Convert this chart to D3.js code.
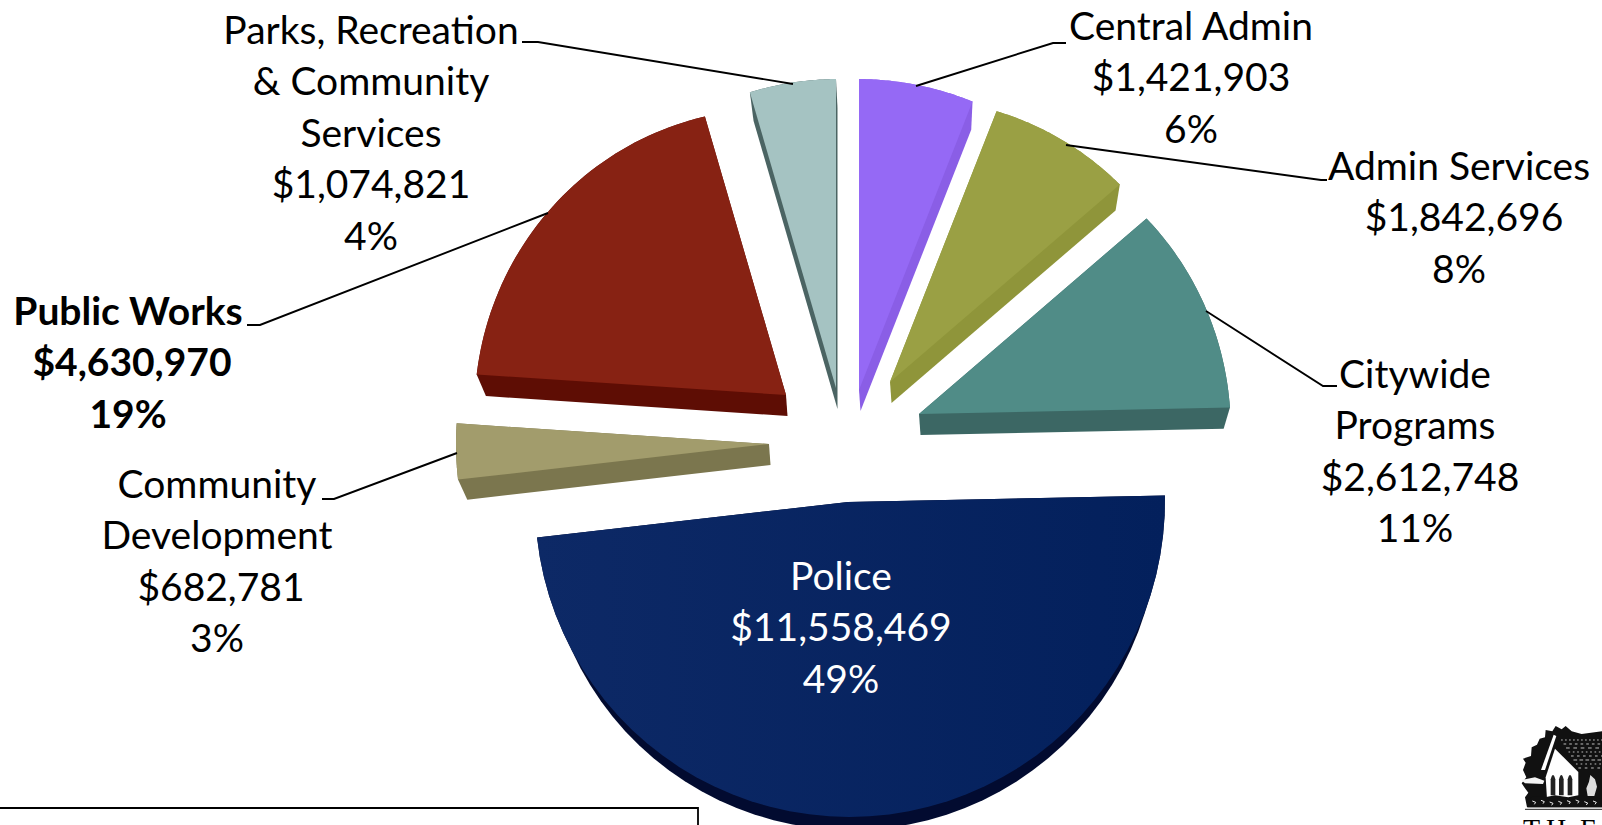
<!DOCTYPE html>
<html>
<head>
<meta charset="utf-8">
<style>
  html, body { margin: 0; padding: 0; background: #fff; overflow: hidden; }
  svg { display: block; }
  text { font-family: Lato, "Noto Sans", sans-serif; }
</style>
<script src="https://cdn.jsdelivr.net/npm/d3@7/dist/d3.min.js"></script>
</head>
<body>
<svg id="chart" width="1602" height="825"></svg>
<script>
// General fund budget by department, clockwise from twelve o'clock.
const departments = ["Central Admin", "Admin Services", "Citywide Programs", "Police",
                     "Community Development", "Public Works", "Parks, Recreation & Community Services"];
const amounts = [1421903, 1842696, 2612748, 11558469, 682781, 4630970, 1074821];
const shareLabels = ["6%", "8%", "11%", "49%", "3%", "19%", "4%"];

// Wrapped name lines for each label.
const nameLines = [
  ["Central Admin"], ["Admin Services"], ["Citywide", "Programs"], ["Police"],
  ["Community", "Development"], ["Public Works"], ["Parks, Recreation", "& Community", "Services"]
];

// Slice colours: top face, then extruded side.
const topColors  = ["#9569f5", "#9aa044", "#508c87", "url(#policeFill)", "#a29c6c", "#872213", "#a5c3c2"];
const sideColors = ["#8a5ee6", "#8f953a", "#3c6764", "#020b30", "#7b764e", "#5e0d04", "#4b6463"];

// Layout: exploded apex of each slice.
const apexes = [[859, 390], [890, 382], [919, 414], [848, 502], [769, 444], [786, 395], [836, 388]];
// Layout: rim distance at a slice's first and last edge, which the tilted view foreshortens.
const rimSpans = [[311, 310], [291, 303], [300, 311], [317, 313], [313, 313], [310, 290], [308, 309]];
const depth = { dx: 1.5, dy: 21, scale: 0.975 };

// Layout: label centre x and first-line centre y, plus a sideways offset for the dollar line.
const labelAnchors = [[1191, 25], [1459, 165], [1415, 373], [841, 575], [217, 483], [128, 310], [371, 29]];
const amountOffsets = [0, 5, 5, 0, 4, 4, 0];
const lineStep = 51.4;

// Layout: leader lines, from the slice rim out to the label.
const leaders = [
  [[916, 86], [1053, 43], [1066, 43]],
  [[1066, 145], [1321, 180], [1327, 180]],
  [[1206, 311], [1323, 386], [1337, 386]],
  null,
  [[457, 453], [334, 499], [322, 499]],
  [[548, 213], [260, 325], [247, 325]],
  [[793, 84], [538, 42], [522, 42]]
];

const svg = d3.select("#chart");

const defs = svg.append("defs");
const grad = defs.append("linearGradient").attr("id", "policeFill");
grad.append("stop").attr("offset", "0%").attr("stop-color", "#0d2966");
grad.append("stop").attr("offset", "100%").attr("stop-color", "#03205c");

const pie = d3.pie().sort(null).startAngle(0).endAngle(2 * Math.PI);
const slices = pie(amounts);

// Outline of a slice as [x, y] points around an apex, with the rim eased between its two spans.
function outline(d, i, cx, cy, k) {
  const [r0, r1] = rimSpans[i];
  const pts = [[cx, cy]];
  const steps = 48;
  for (let s = 0; s <= steps; s++) {
    const t = s / steps;
    const a = d.startAngle + (d.endAngle - d.startAngle) * t;
    const r = (r0 + (r1 - r0) * t) * k;
    pts.push([cx + r * Math.sin(a), cy - r * Math.cos(a)]);
  }
  return pts;
}

const groups = svg.selectAll("g.slice").data(slices).join("g").attr("class", "slice");

groups.append("path")
  .attr("fill", (d, i) => sideColors[i])
  .attr("d", (d, i) => {
    const [x, y] = apexes[i];
    const hull = d3.polygonHull(outline(d, i, x, y, 1)
      .concat(outline(d, i, x + depth.dx, y + depth.dy, depth.scale)));
    return d3.line()(hull) + "Z";
  });

groups.append("path")
  .attr("fill", (d, i) => topColors[i])
  .attr("d", (d, i) => d3.line()(outline(d, i, apexes[i][0], apexes[i][1], 1)) + "Z");

// Leader lines.
svg.append("g").selectAll("path")
  .data(leaders.filter(Boolean))
  .join("path")
  .attr("d", d3.line())
  .attr("fill", "none")
  .attr("stroke", "#000")
  .attr("stroke-width", 1.9);

// Labels.
const money = d3.format("$,");
const labels = svg.append("g").selectAll("text").data(departments).join("text")
  .attr("text-anchor", "middle")
  .attr("font-size", 39)
  .attr("fill", d => d === "Police" ? "#fff" : "#000")
  .attr("font-weight", d => d === "Public Works" ? 700 : 400);

labels.each(function (d, i) {
  const lines = nameLines[i].concat([money(amounts[i]), shareLabels[i]]);
  const amountLine = lines.length - 2;
  const [x, y] = labelAnchors[i];
  d3.select(this).selectAll("tspan").data(lines).join("tspan")
    .attr("x", (t, j) => j === amountLine ? x + amountOffsets[i] : x)
    .attr("y", (t, j) => y + j * lineStep)
    .attr("dominant-baseline", "central")
    .text(t => t);
});

// Legend box cut off by the lower edge.
svg.append("path")
  .attr("d", "M-2,808H698V830")
  .attr("fill", "none").attr("stroke", "#000").attr("stroke-width", 1.8);

// City seal: a small church among trees, drawn on a 3x grid.
const seal = svg.append("g").attr("transform", "translate(1515,720) scale(0.3333)");
seal.append("path").attr("fill", "#111")
  .attr("d", "M20,190L34,172L24,150L32,128L24,116L48,108L50,82L66,74L74,56L90,52L92,30L112,34L122,18L140,28L152,18L170,34L200,42L262,34V262H36L30,232L40,218L30,205Z");
// Lit gable wall and band of light through the trees.
seal.append("path").attr("fill", "#fff")
  .attr("d", "M120,86L190,156V236H96L92,172Z");
seal.append("path").attr("fill", "#f4f4f4")
  .attr("d", "M18,180L60,172L88,182L84,192L30,190Z");
seal.append("path").attr("fill", "#fff")
  .attr("d", "M116,44L124,48L90,150L78,150Z");
// Roof flecks.
seal.selectAll("path.fleck").data([60, 72, 84, 96, 108, 120, 132, 144]).join("path").attr("class", "fleck")
  .attr("fill", "none").attr("stroke", "#e8e8e8").attr("stroke-width", 2.4)
  .attr("stroke-dasharray", (y, i) => `${5 + i % 3 * 3} ${7 + (i * 2) % 5}`)
  .attr("d", y => `M${132 + (y - 50) * 0.62},${y}H262`);
// Gable windows.
seal.selectAll("path.win").data([114, 139, 165]).join("path").attr("class", "win")
  .attr("fill", "#222")
  .attr("d", x => `M${x - 7},226V178Q${x},152 ${x + 7},178V226Z`);
// Shrub by the side wall, then the planting along the ground.
seal.append("path").attr("fill", "#ddd")
  .attr("d", "M226,165L240,178L246,200L238,228H218L214,205L222,185Z");
seal.append("path").attr("fill", "#111")
  .attr("d", "M38,238L60,228L90,232L120,226L160,232L190,226L262,236V262H38Z");
seal.selectAll("path.leaf").data([52, 78, 104, 130, 156, 182, 208, 234]).join("path").attr("class", "leaf")
  .attr("fill", "none").attr("stroke", "#eee").attr("stroke-width", 3)
  .attr("d", x => `M${x},${240 + x % 7}l10,4l-4,6`);
seal.append("path").attr("stroke", "#222").attr("stroke-width", 3).attr("fill", "none").attr("d", "M30,268H262");

svg.append("text")
  .attr("x", "1523 1546 1580").attr("y", 838)
  .attr("font-size", 28)
  .style("font-family", "'Liberation Serif', serif")
  .text("THE");
</script>
</body>
</html>
